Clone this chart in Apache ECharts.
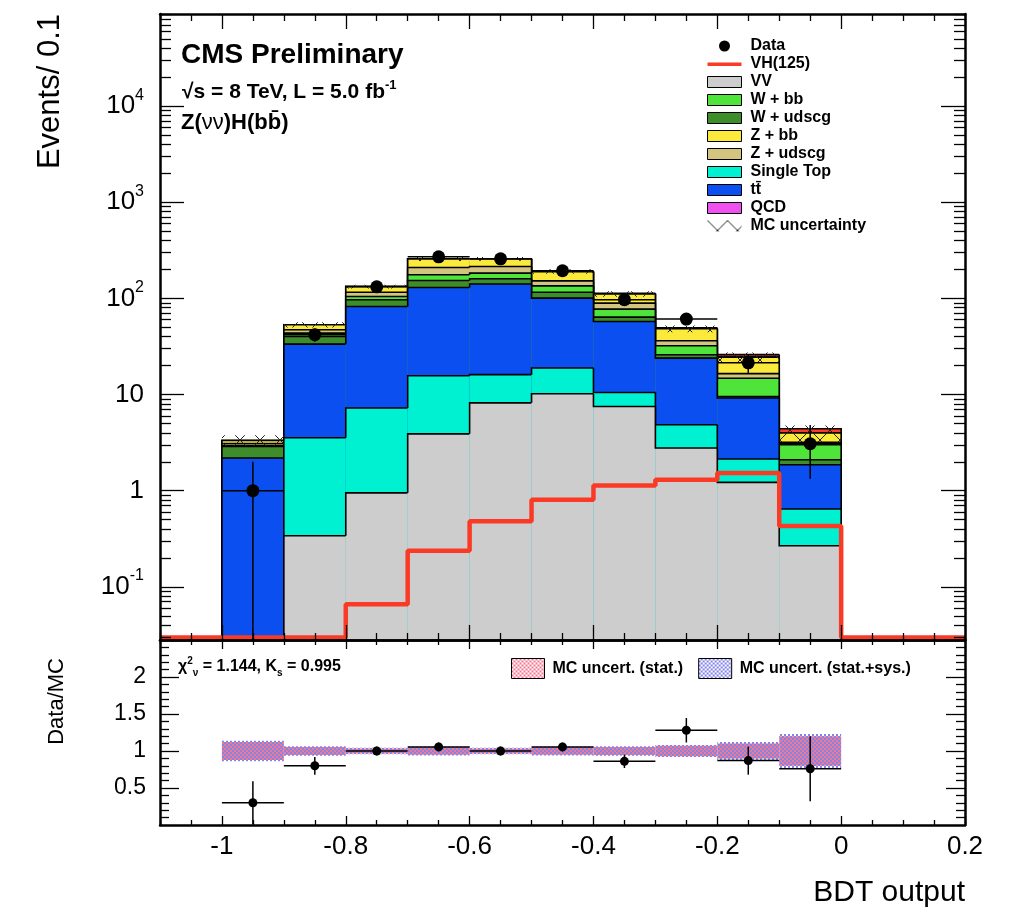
<!DOCTYPE html>
<html><head><meta charset="utf-8">
<script src="https://cdn.jsdelivr.net/npm/echarts@6/dist/echarts.min.js"></script>
<style>html,body{margin:0;padding:0;background:#fff}#c{width:1024px;height:922px}</style>
</head><body><div id="c"></div>
<script>
// ---------------- data ----------------
const binLow   = [-1.0,-0.9,-0.8,-0.7,-0.6,-0.5,-0.4,-0.3,-0.2,-0.1];
const binWidth = 0.1;
const vv        = [0, 0.34, 0.95, 3.9, 8.2, 10.2, 7.5, 2.78, 1.22, 0.268];
const singleTop = [0, 3.22, 6.3, 11.8, 7.9, 8.7, 3.0, 2.07, 0.92, 0.377];
const ttbar     = [2.19, 29.9, 75.2, 114.2, 124.9, 81.8, 47.0, 19.05, 7.06, 1.215];
const wudscg    = [0.70, 6.7, 14.3, 23.6, 19.0, 15.3, 6.4, 2.0, 0.36, 0.24];
const wbb       = [0.06, 3.4, 8.0, 22.5, 23.0, 19.0, 13.5, 6.3, 5.24, 0.91];
const zudscg    = [0.15, 3.6, 11.3, 33.6, 32.0, 17.0, 12.0, 4.1, 1.7, 0.17];
const zbb       = [0.23, 6.0, 17.0, 48.4, 43.0, 38.0, 22.2, 12.0, 8.0, 0.80];
const qcd       = [0, 0, 0, 0, 0, 0, 0, 0, 0, 0];
const vh        = [0, 0, 0.066, 0.238, 0.48, 0.806, 1.13, 1.30, 1.53, 0.43];
const dataVals  = [1, 42, 132, 271, 258, 194, 97, 61, 21.4, 3.08];
const dataErr   = [1.0, 6.5, 11.5, 16.5, 16.1, 13.9, 9.8, 7.8, 4.6, 1.75];
const mcUncRel  = [0.13, 0.06, 0.045, 0.05, 0.045, 0.05, 0.065, 0.08, 0.12, 0.2];
const ratioVals = [0.30, 0.80, 1.00, 1.055, 1.00, 1.055, 0.86, 1.28, 0.87, 0.76];
const ratioErr  = [0.29, 0.12, 0.06, 0.06, 0.06, 0.06, 0.09, 0.165, 0.19, 0.44];
const ratioStatSys = [0.14, 0.065, 0.045, 0.06, 0.045, 0.06, 0.065, 0.08, 0.12, 0.23];
const ratioStat    = [0.12, 0.055, 0.035, 0.05, 0.035, 0.05, 0.055, 0.07, 0.10, 0.20];
const xTickLabels     = [-1, -0.8, -0.6, -0.4, -0.2, 0, 0.2];
const yTickLabels     = [0.1, 1, 10, 100, 1000, 10000];
const ratioTickLabels = [0.5, 1, 1.5, 2];

// ---------------- settings ----------------
const FONT = 'Liberation Sans, Arial, Helvetica, sans-serif';
const X_MIN = -1.1, X_MAX = 0.2, Y_MIN = 0.028, Y_MAX = 90800;
const R_MIN = 0, R_MAX = 2.5;
const RED = '#fb3a26';
const n = binLow.length;

function makePattern(w, h, draw) {
  const c = document.createElement('canvas'); c.width = w; c.height = h;
  draw(c.getContext('2d')); return {image: c, repeat: 'repeat'};
}
const hatch = makePattern(20, 20, ctx => {
  ctx.strokeStyle = '#222'; ctx.lineWidth = 1; ctx.beginPath();
  ctx.moveTo(0, 0); ctx.lineTo(20, 20); ctx.moveTo(20, 0); ctx.lineTo(0, 20); ctx.stroke();
});
const dotsRed = makePattern(4, 4, ctx => {
  ctx.fillStyle = '#f07890'; ctx.fillRect(0, 0, 2, 2); ctx.fillRect(2, 2, 2, 2);
});
const dotsBlue = makePattern(4, 4, ctx => {
  ctx.fillStyle = '#8484e6'; ctx.fillRect(2, 0, 2, 2); ctx.fillRect(0, 2, 2, 2);
});

// stack (bottom -> top)
const layers = [
  {name: 'VV', vals: vv, color: '#cdcdcd'},
  {name: 'Single Top', vals: singleTop, color: '#00f0d2'},
  {name: 'tt\u0304', vals: ttbar, color: '#0b4ff0'},
  {name: 'W + udscg', vals: wudscg, color: '#3d8e2a'},
  {name: 'W + bb', vals: wbb, color: '#4ee43a'},
  {name: 'Z + udscg', vals: zudscg, color: '#d3c47f'},
  {name: 'Z + bb', vals: zbb, color: '#fbe93c'},
  {name: 'QCD', vals: qcd, color: '#f050f0'},
  {name: 'VH(125) stacked', vals: vh, color: RED}
];
let cum = binLow.map(() => 0);
layers.forEach(L => { cum = cum.map((c, i) => c + L.vals[i]); L.top = cum.slice(); });
const bgTotal = layers[7].top;

function cy(v) { return v > 0 ? v : Y_MIN * 0.3; }

function layerSeries(L) {
  return {
    name: L.name, type: 'custom', xAxisIndex: 0, yAxisIndex: 0, clip: true, z: 2,
    itemStyle: {color: L.color},
    encode: {x: [0, 1], y: 2},
    data: binLow.map((x, i) => [x, x + binWidth, L.top[i], i > 0 ? L.top[i - 1] : 0, i < n - 1 ? L.top[i + 1] : 0]),
    renderItem: (p, api) => {
      const x0 = api.value(0), x1 = api.value(1), top = api.value(2), prev = api.value(3), next = api.value(4);
      const tl = api.coord([x0, cy(top)]), tr = api.coord([x1, cy(top)]);
      const bl = api.coord([x0, Y_MIN]);
      const pp = api.coord([x0, cy(prev)]), pn = api.coord([x1, cy(next)]);
      const ch = [];
      if (top > 0) ch.push({type: 'rect', shape: {x: tl[0], y: tl[1], width: tr[0] - tl[0], height: bl[1] - tl[1]}, style: {fill: L.color}});
      const pts = [pp, tl, tr];
      if (p.dataIndex === n - 1) pts.push(pn);
      ch.push({type: 'polyline', shape: {points: pts}, style: {stroke: '#000', lineWidth: 1.6, fill: null}});
      return {type: 'group', children: ch};
    }
  };
}

// VH line (histogram incl. empty under/overflow region), drawn as a step line
const VH_FLOOR = Y_MIN * 1.06;
const vhLine = [[X_MIN, VH_FLOOR]].concat(binLow.map((x, i) => [x, vh[i] > 0 ? vh[i] : VH_FLOOR]))
  .concat([[0, VH_FLOOR], [X_MAX, VH_FLOOR]]);

// ---------------- axes ----------------
function range(a, b, s) { const r = []; for (let k = Math.round(a / s); k <= Math.round(b / s); k++) r.push(+(k * s).toFixed(4)); return r; }
const xMinor = range(X_MIN, X_MAX, 0.05).filter(v => !xTickLabels.some(m => Math.abs(m - v) < 1e-6));
const yMinor = [];
for (let e = -2; e <= 4; e++) for (let m = 2; m <= 9; m++) { const v = +(m * Math.pow(10, e)).toPrecision(3); if (v >= Y_MIN && v <= Y_MAX) yMinor.push(v); }
const rMinor = range(0.1, 2.4, 0.1).filter(v => !ratioTickLabels.some(m => Math.abs(m - v) < 1e-6));

function ax(base, grid, pos, vals, len, line, label) {
  return Object.assign({}, base, {
    gridIndex: grid, position: pos, z: 10,
    axisLine: {show: !!line, onZero: false, lineStyle: {color: '#000', width: 2.5}},
    axisTick: {show: true, inside: true, length: len, customValues: vals, lineStyle: {color: '#000', width: 1.3}},
    axisLabel: label || {show: false},
    splitLine: {show: false}, minorTick: {show: false}
  });
}
const xBase = {type: 'value', min: X_MIN, max: X_MAX};
const yLogBase = {type: 'log', logBase: 10, min: Y_MIN, max: Y_MAX};
const rBase = {type: 'value', min: R_MIN, max: R_MAX};

const xLabel = {show: true, customValues: xTickLabels, margin: 9, color: '#000', fontFamily: FONT, fontSize: 26,
  formatter: v => Math.abs(v) < 1e-9 ? '0' : String(Math.round(v * 10) / 10)};
const yLabel = {show: true, customValues: yTickLabels, margin: 16, color: '#000', fontFamily: FONT,
  formatter: v => { const e = Math.round(Math.log10(v)); if (e === 0) return '{b|1}'; if (e === 1) return '{b|10}'; return '{b|10}{s|' + e + '}'; },
  rich: {b: {fontSize: 26, fontFamily: FONT, color: '#000', lineHeight: 38}, s: {fontSize: 16, fontFamily: FONT, color: '#000', verticalAlign: 'top', lineHeight: 16}}};
const rLabel = {show: true, customValues: ratioTickLabels, margin: 14, color: '#000', fontFamily: FONT, fontSize: 23,
  formatter: v => String(v)};

const xAxes = [
  ax(xBase, 0, 'bottom', xTickLabels, 15, true), ax(xBase, 0, 'bottom', xMinor, 7, false),
  ax(xBase, 0, 'top', xTickLabels, 15, true), ax(xBase, 0, 'top', xMinor, 7, false),
  ax(xBase, 1, 'bottom', xTickLabels, 9, true, xLabel), ax(xBase, 1, 'bottom', xMinor, 5, false),
  ax(xBase, 1, 'top', xTickLabels, 9, true), ax(xBase, 1, 'top', xMinor, 5, false)
];
const yAxes = [
  ax(yLogBase, 0, 'left', yTickLabels, 24, true, yLabel), ax(yLogBase, 0, 'left', yMinor, 11, false),
  ax(yLogBase, 0, 'right', yTickLabels, 24, true), ax(yLogBase, 0, 'right', yMinor, 11, false),
  ax(rBase, 1, 'left', ratioTickLabels, 19, true, rLabel), ax(rBase, 1, 'left', rMinor, 9, false),
  ax(rBase, 1, 'right', ratioTickLabels, 19, true), ax(rBase, 1, 'right', rMinor, 9, false)
];

// ---------------- series ----------------
const series = [];
layers.slice().reverse().forEach(L => series.push(layerSeries(L)));

series.push({
  name: 'MC uncertainty', type: 'custom', xAxisIndex: 0, yAxisIndex: 0, clip: true, z: 3,
  itemStyle: {color: '#222'}, encode: {x: [0, 1], y: 2},
  data: binLow.map((x, i) => [x, x + binWidth, bgTotal[i] * (1 - mcUncRel[i]), bgTotal[i] * (1 + mcUncRel[i])]),
  renderItem: (p, api) => {
    const a = api.coord([api.value(0), api.value(3)]), b = api.coord([api.value(1), api.value(2)]);
    return {type: 'rect', shape: {x: a[0], y: a[1], width: b[0] - a[0], height: b[1] - a[1]}, style: {fill: hatch}};
  }
});

series.push({
  name: 'VH(125)', type: 'line', xAxisIndex: 0, yAxisIndex: 0, step: 'end', data: vhLine,
  showSymbol: false, symbol: 'none', clip: false, z: 4,
  lineStyle: {color: RED, width: 4.5}, itemStyle: {color: RED}
});

series.push({
  name: 'Data', type: 'custom', xAxisIndex: 0, yAxisIndex: 0, clip: true, z: 6,
  itemStyle: {color: '#000'}, encode: {x: [0, 1], y: 2},
  data: binLow.map((x, i) => [x, x + binWidth, dataVals[i], dataErr[i]]),
  renderItem: (p, api) => {
    const x0 = api.value(0), x1 = api.value(1), v = api.value(2), e = api.value(3), xc = (x0 + x1) / 2;
    const c = api.coord([xc, v]), l = api.coord([x0, v]), r = api.coord([x1, v]);
    const lo = api.coord([xc, v - e > 0 ? v - e : Y_MIN * 0.3]), hi = api.coord([xc, v + e]);
    return {type: 'group', children: [
      {type: 'line', shape: {x1: l[0], y1: l[1], x2: r[0], y2: r[1]}, style: {stroke: '#000', lineWidth: 1.5}},
      {type: 'line', shape: {x1: lo[0], y1: lo[1], x2: hi[0], y2: hi[1]}, style: {stroke: '#000', lineWidth: 1.5}},
      {type: 'circle', shape: {cx: c[0], cy: c[1], r: 6.5}, style: {fill: '#000'}}
    ]};
  }
});

function bandSeries(name, errs, pattern) {
  return {
    name, type: 'custom', xAxisIndex: 4, yAxisIndex: 4, clip: true, z: 3,
    itemStyle: {color: pattern}, encode: {x: [0, 1], y: 2},
    data: binLow.map((x, i) => [x, x + binWidth, 1 - errs[i], 1 + errs[i]]),
    renderItem: (p, api) => {
      const a = api.coord([api.value(0), api.value(3)]), b = api.coord([api.value(1), api.value(2)]);
      return {type: 'rect', shape: {x: a[0], y: a[1], width: b[0] - a[0], height: b[1] - a[1]}, style: {fill: pattern}};
    }
  };
}
series.push(bandSeries('MC uncert. (stat.+sys.)', ratioStatSys, dotsBlue));
series.push(bandSeries('MC uncert. (stat.)', ratioStat, dotsRed));

series.push({
  name: 'Data/MC', type: 'custom', xAxisIndex: 4, yAxisIndex: 4, clip: true, z: 6,
  itemStyle: {color: '#000'}, encode: {x: [0, 1], y: 2},
  data: binLow.map((x, i) => [x, x + binWidth, ratioVals[i], ratioErr[i]]),
  renderItem: (p, api) => {
    const x0 = api.value(0), x1 = api.value(1), v = api.value(2), e = api.value(3), xc = (x0 + x1) / 2;
    const c = api.coord([xc, v]), l = api.coord([x0, v]), r = api.coord([x1, v]);
    const lo = api.coord([xc, Math.max(v - e, R_MIN)]), hi = api.coord([xc, v + e]);
    return {type: 'group', children: [
      {type: 'line', shape: {x1: l[0], y1: l[1], x2: r[0], y2: r[1]}, style: {stroke: '#000', lineWidth: 1.5}},
      {type: 'line', shape: {x1: lo[0], y1: lo[1], x2: hi[0], y2: hi[1]}, style: {stroke: '#000', lineWidth: 1.5}},
      {type: 'circle', shape: {cx: c[0], cy: c[1], r: 4.5}, style: {fill: '#000'}}
    ]};
  }
});

// ---------------- legends ----------------
const legendText = {fontFamily: FONT, fontWeight: 'bold', fontSize: 16, color: '#000', lineHeight: 18, padding: [0, 0, 0, 4]};
const box = (c) => ({color: c, borderColor: '#000', borderWidth: 1});
const legendTop = {
  orient: 'vertical', left: 707, top: 37, padding: 0, itemGap: 0, itemWidth: 34, itemHeight: 11,
  selectedMode: false, textStyle: legendText,
  data: [
    {name: 'Data', icon: 'circle', itemStyle: {color: '#000', borderWidth: 0}},
    {name: 'VH(125)', icon: 'path://M0,0h0.01v0.01h-0.01z M0,4h34v3.5h-34z M0,11h0.01v0.01h-0.01z', itemStyle: {color: RED, borderWidth: 0}},
    {name: 'VV', icon: 'rect', itemStyle: box(layers[0].color)},
    {name: 'W + bb', icon: 'rect', itemStyle: box(layers[4].color)},
    {name: 'W + udscg', icon: 'rect', itemStyle: box(layers[3].color)},
    {name: 'Z + bb', icon: 'rect', itemStyle: box(layers[6].color)},
    {name: 'Z + udscg', icon: 'rect', itemStyle: box(layers[5].color)},
    {name: 'Single Top', icon: 'rect', itemStyle: box(layers[1].color)},
    {name: 'tt\u0304', icon: 'rect', itemStyle: box(layers[2].color)},
    {name: 'QCD', icon: 'rect', itemStyle: box(layers[7].color)},
    {name: 'MC uncertainty', icon: 'rect', itemStyle: {color: hatch, borderWidth: 0}}
  ]
};
const legendRatio = {
  orient: 'horizontal', left: 511, top: 658, padding: 0, itemGap: 15, itemWidth: 33, itemHeight: 20,
  selectedMode: false, textStyle: {fontFamily: FONT, fontWeight: 'bold', fontSize: 16, color: '#000', padding: [0, 0, 0, 3]},
  data: [
    {name: 'MC uncert. (stat.)', icon: 'rect', itemStyle: {color: dotsRed, borderColor: '#000', borderWidth: 1}},
    {name: 'MC uncert. (stat.+sys.)', icon: 'rect', itemStyle: {color: dotsBlue, borderColor: '#000', borderWidth: 1}}
  ]
};

// ---------------- texts ----------------
const graphic = [
  {type: 'text', x: 181, y: 55, style: {text: 'CMS Preliminary', font: 'bold 28px ' + FONT, fill: '#000', verticalAlign: 'middle'}},
  {type: 'text', x: 182, y: 92, style: {text: '{a|\u221As = 8 TeV, L = 5.0 fb}{s|-1}', verticalAlign: 'middle',
    rich: {a: {font: 'bold 21px ' + FONT, fill: '#000', lineHeight: 26}, s: {font: 'bold 13px ' + FONT, fill: '#000', verticalAlign: 'top', lineHeight: 13}}}},
  {type: 'text', x: 181, y: 123, style: {text: '{a|Z(}{g|\u03BD\u03BD}{a|)H(bb\u0304)}', verticalAlign: 'middle',
    rich: {a: {font: 'bold 22px ' + FONT, fill: '#000', lineHeight: 26}, g: {font: '22px ' + FONT, fill: '#000', lineHeight: 26}}}},
  {type: 'text', x: 178, y: 667, style: {text: '{a|\u03C7}{p|2}{q|\u03BD}{a| = 1.144, K}{q|s}{a| = 0.995}', verticalAlign: 'middle',
    rich: {a: {font: 'bold 16px ' + FONT, fill: '#000', lineHeight: 22}, p: {font: 'bold 10px ' + FONT, fill: '#000', verticalAlign: 'top', lineHeight: 10},
      q: {font: 'bold 10px ' + FONT, fill: '#000', verticalAlign: 'bottom', lineHeight: 10}}}},
  {type: 'text', x: 50, y: 14, rotation: Math.PI / 2, style: {text: 'Events/ 0.1', font: '31px ' + FONT, fill: '#000', align: 'right', verticalAlign: 'middle'}},
  {type: 'text', x: 57, y: 658, rotation: Math.PI / 2, style: {text: 'Data/MC', font: '22px ' + FONT, fill: '#000', align: 'right', verticalAlign: 'middle'}},
  {type: 'text', x: 965, y: 893, style: {text: 'BDT output', font: '30px ' + FONT, fill: '#000', align: 'right', verticalAlign: 'middle'}}
];

const chart = echarts.init(document.getElementById('c'), null, {renderer: 'canvas'});
chart.setOption({
  animation: false,
  backgroundColor: '#fff',
  grid: [
    {left: 160, right: 59, top: 14, height: 626, containLabel: false, outerBoundsMode: 'none'},
    {left: 160, right: 59, top: 640, height: 185, containLabel: false, outerBoundsMode: 'none'}
  ],
  xAxis: xAxes, yAxis: yAxes,
  legend: [legendTop, legendRatio],
  graphic: graphic,
  series: series
});
</script></body></html>
